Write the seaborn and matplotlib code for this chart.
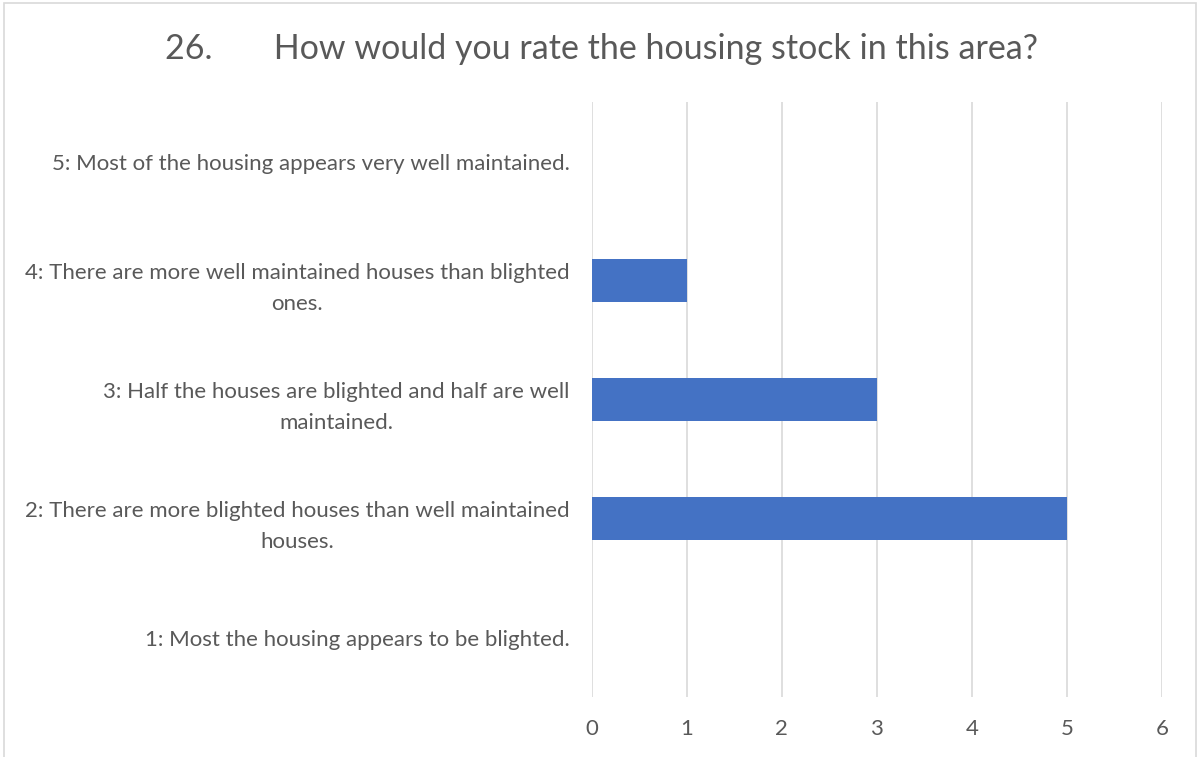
import matplotlib
matplotlib.use("Agg")
import matplotlib.pyplot as plt
import pandas as pd
import seaborn as sns
from matplotlib.patches import Rectangle

categories = [
    "5: Most of the housing appears very well maintained.",
    "4: There are more well maintained houses than blighted\nones.",
    "3: Half the houses are blighted and half are well\nmaintained.",
    "2: There are more blighted houses than well maintained\nhouses.",
    "1: Most the housing appears to be blighted.",
]
counts = [0, 1, 3, 5, 0]
x_ticks = [0, 1, 2, 3, 4, 5, 6]
title = "26.       How would you rate the housing stock in this area?"

TEXT = "#595959"
GRID = "#D9D9D9"
BAR = "#4472C4"

sns.set_theme(style="white")
plt.rcParams["font.family"] = ["Lato", "DejaVu Sans"]

df = pd.DataFrame({"label": categories, "count": counts})

fig = plt.figure(figsize=(11.98, 7.57), dpi=100)
ax = fig.add_axes([0.494, 0.079, 0.476, 0.786])

sns.barplot(data=df, x="count", y="label", order=categories, color=BAR,
            saturation=1, width=0.36, linewidth=0, ax=ax, zorder=3)

ax.set_xlim(0, 6)
ax.set_xticks(x_ticks)
ax.set_xticklabels([str(t) for t in x_ticks])
ax.grid(axis="x", color=GRID, linewidth=1.2, zorder=0)
ax.grid(axis="y", visible=False)
for s in ax.spines.values():
    s.set_visible(False)
ax.set_xlabel("")
ax.set_ylabel("")
ax.tick_params(axis="x", length=0, pad=16, labelsize=16, labelcolor=TEXT)
ax.tick_params(axis="y", length=0, pad=16, labelsize=16, labelcolor=TEXT)
for lbl in ax.get_yticklabels():
    lbl.set_multialignment("center")
    lbl.set_linespacing(1.7)

fig.text(0.502, 0.935, title, ha="center", va="center", fontsize=24.5, color=TEXT)

fig.patches.append(Rectangle((4 / 1198, -0.01), 1192 / 1198, 1 - 3 / 757 + 0.01,
                             transform=fig.transFigure, fill=False,
                             edgecolor=GRID, linewidth=1.2))

fig.savefig("out.png", dpi=100)
